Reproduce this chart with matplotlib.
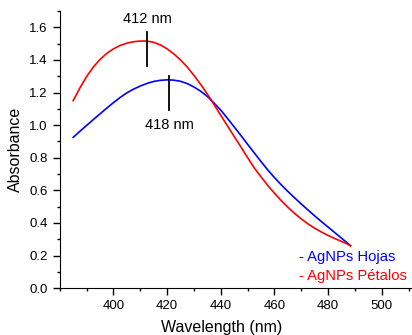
import matplotlib
matplotlib.use("Agg")
import matplotlib.pyplot as plt
from matplotlib.ticker import MultipleLocator, FormatStrFormatter

plt.rcParams['font.family'] = ['Liberation Sans', 'DejaVu Sans']

# Wavelength (nm) and absorbance
wlPetalos = [385, 387.5, 390, 392.5, 395, 397.5, 400, 402.5, 405, 407.5, 410, 412.5,
             415, 417.5, 420, 422.5, 425, 427.5, 430, 432.5, 435, 437.5, 440, 442.5,
             445, 447.5, 450, 452.5, 455, 457.5, 460, 462.5, 465, 467.5, 470, 472.5,
             475, 477.5, 480, 482.5, 485, 487.5, 488.3]
absPetalos = [1.150, 1.228, 1.298, 1.356, 1.403, 1.440, 1.468, 1.489, 1.503, 1.512, 1.516, 1.516,
              1.508, 1.492, 1.468, 1.437, 1.400, 1.356, 1.305, 1.250, 1.190, 1.126, 1.060, 0.995,
              0.930, 0.866, 0.800, 0.737, 0.682, 0.630, 0.582, 0.537, 0.496, 0.458, 0.424, 0.394,
              0.367, 0.344, 0.323, 0.304, 0.286, 0.268, 0.259]

wlHojas = [385, 387.5, 390, 392.5, 395, 397.5, 400, 402.5, 405, 407.5, 410, 412.5,
           415, 417.5, 420, 422.5, 425, 427.5, 430, 432.5, 435, 437.5, 440, 442.5,
           445, 447.5, 450, 452.5, 455, 457.5, 460, 462.5, 465, 467.5, 470, 472.5,
           475, 477.5, 480, 482.5, 485, 487.5, 488.3]
absHojas = [0.925, 0.962, 0.998, 1.034, 1.069, 1.104, 1.138, 1.170, 1.198, 1.221, 1.240, 1.256,
            1.268, 1.275, 1.278, 1.276, 1.269, 1.255, 1.234, 1.208, 1.176, 1.135, 1.092, 1.041,
            0.989, 0.936, 0.882, 0.829, 0.776, 0.725, 0.678, 0.634, 0.593, 0.554, 0.516, 0.479,
            0.443, 0.408, 0.374, 0.340, 0.306, 0.272, 0.261]

# Peak markers: (wavelength, line bottom, line top, label, label y)
peakPetalos = (412.5, 1.36, 1.57, "412 nm", 1.65)
peakHojas = (420.8, 1.09, 1.30, "418 nm", 1.0)

fig = plt.figure(figsize=(4.12, 3.35), dpi=100)
ax = fig.add_axes([0.145, 0.14, 0.86, 0.827])

ax.plot(wlHojas, absHojas, color=(0, 0, 1), lw=1.2)
ax.plot(wlPetalos, absPetalos, color=(1, 0, 0), lw=1.2)

for wl, y0, y1, txt, ty in [peakPetalos, peakHojas]:
    ax.plot([wl, wl], [y0, y1], color="black", lw=1.3)
    ax.text(wl, ty, txt, ha="center", va="center", fontsize=10.5)

# Legend written as coloured text
ax.text(469.3, 0.188, "- AgNPs Hojas", color=(0, 0, 1), fontsize=10.6, va="center")
ax.text(469.3, 0.076, "- AgNPs Pétalos", color=(1, 0, 0), fontsize=10.6, va="center")

ax.set_xlim(380, 512)
ax.set_ylim(0, 1.7)
ax.set_xticks([400, 420, 440, 460, 480, 500])
ax.xaxis.set_minor_locator(MultipleLocator(10))
ax.yaxis.set_major_locator(MultipleLocator(0.2))
ax.yaxis.set_minor_locator(MultipleLocator(0.1))
ax.yaxis.set_major_formatter(FormatStrFormatter("%.1f"))

ax.spines["top"].set_visible(False)
ax.spines["right"].set_visible(False)
ax.tick_params(which="major", direction="out", length=5, width=1, labelsize=9.5)
ax.tick_params(which="minor", direction="out", length=2.5, width=1)

ax.set_xlabel("Wavelength (nm)", fontsize=11.5)
ax.set_ylabel("Absorbance", fontsize=11.5)
ax.xaxis.set_label_coords(0.456, -0.115)
ax.yaxis.set_label_coords(-0.104, 0.5)

fig.savefig("out.png", dpi=100)
